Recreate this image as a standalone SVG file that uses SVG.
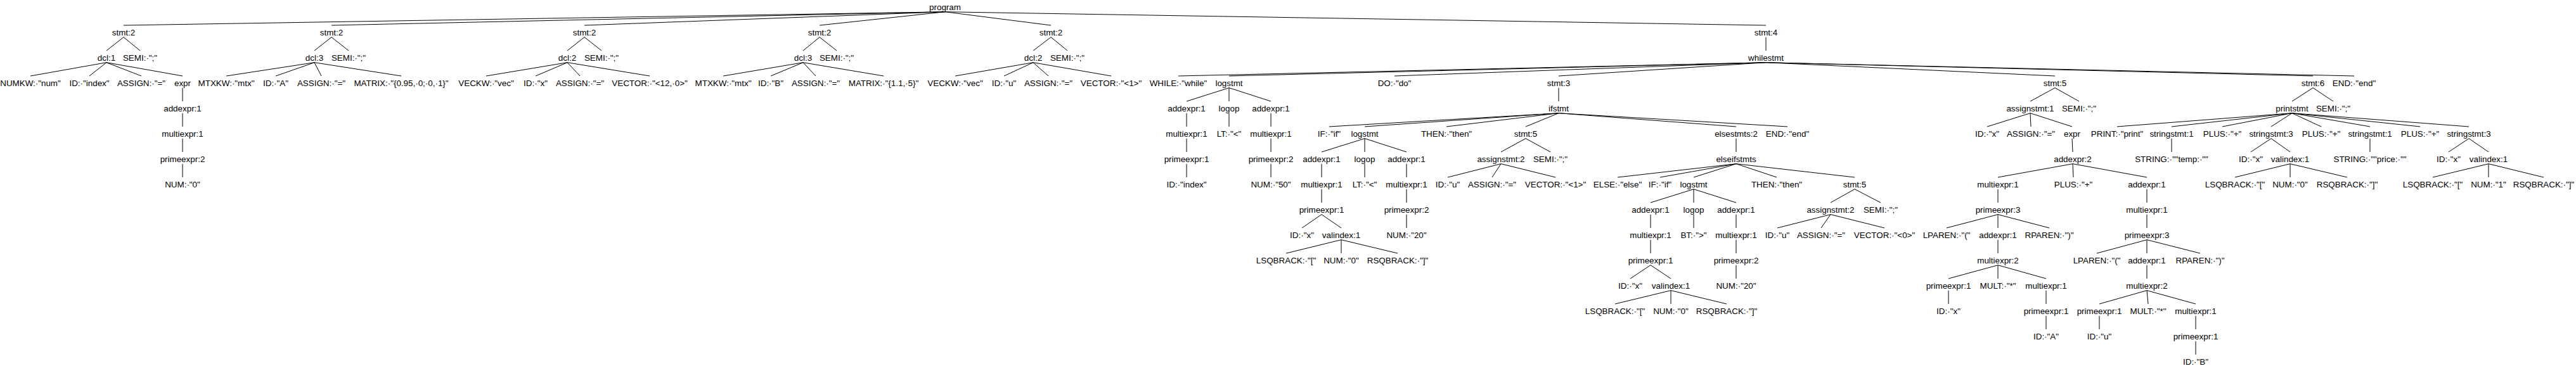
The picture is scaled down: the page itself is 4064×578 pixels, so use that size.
<svg xmlns="http://www.w3.org/2000/svg" width="4064" height="578" viewBox="0 0 4064 578">
<style>
text{font-family:"Liberation Sans",Arial,Helvetica,sans-serif;font-size:13.4px;text-anchor:middle;fill:#000}
#edges line{stroke:#000;stroke-width:1}
</style>
<rect width="4064" height="578" fill="#fff"/>
<g id="edges">
<line x1="1491" y1="18.7" x2="195" y2="40"/><line x1="1491" y1="18.7" x2="523" y2="40"/><line x1="1491" y1="18.7" x2="922" y2="40"/><line x1="1491" y1="18.7" x2="1293" y2="40"/><line x1="1491" y1="18.7" x2="1658" y2="40"/><line x1="1491" y1="18.7" x2="2786" y2="40"/>
<line x1="195" y1="58.7" x2="168" y2="80"/><line x1="195" y1="58.7" x2="221" y2="80"/>
<line x1="168" y1="98.7" x2="48" y2="120"/><line x1="168" y1="98.7" x2="141" y2="120"/><line x1="168" y1="98.7" x2="223" y2="120"/><line x1="168" y1="98.7" x2="288" y2="120"/>
<line x1="288" y1="138.7" x2="288" y2="160"/><line x1="288" y1="178.7" x2="288" y2="200"/><line x1="288" y1="218.7" x2="288" y2="240"/><line x1="288" y1="258.7" x2="288" y2="280"/>
<line x1="523" y1="58.7" x2="496" y2="80"/><line x1="523" y1="58.7" x2="550" y2="80"/>
<line x1="496" y1="98.7" x2="357" y2="120"/><line x1="496" y1="98.7" x2="435" y2="120"/><line x1="496" y1="98.7" x2="507" y2="120"/><line x1="496" y1="98.7" x2="633" y2="120"/>
<line x1="922" y1="58.7" x2="895" y2="80"/><line x1="922" y1="58.7" x2="949" y2="80"/>
<line x1="895" y1="98.7" x2="767" y2="120"/><line x1="895" y1="98.7" x2="845" y2="120"/><line x1="895" y1="98.7" x2="915" y2="120"/><line x1="895" y1="98.7" x2="1025" y2="120"/>
<line x1="1293" y1="58.7" x2="1267" y2="80"/><line x1="1293" y1="58.7" x2="1320" y2="80"/>
<line x1="1267" y1="98.7" x2="1141" y2="120"/><line x1="1267" y1="98.7" x2="1216" y2="120"/><line x1="1267" y1="98.7" x2="1287" y2="120"/><line x1="1267" y1="98.7" x2="1394" y2="120"/>
<line x1="1658" y1="58.7" x2="1630" y2="80"/><line x1="1658" y1="58.7" x2="1684" y2="80"/>
<line x1="1630" y1="98.7" x2="1507" y2="120"/><line x1="1630" y1="98.7" x2="1584" y2="120"/><line x1="1630" y1="98.7" x2="1654" y2="120"/><line x1="1630" y1="98.7" x2="1753" y2="120"/>
<line x1="2786" y1="58.7" x2="2786" y2="80"/>
<line x1="2786" y1="98.7" x2="1859" y2="120"/><line x1="2786" y1="98.7" x2="1939" y2="120"/><line x1="2786" y1="98.7" x2="2200" y2="120"/><line x1="2786" y1="98.7" x2="2459" y2="120"/><line x1="2786" y1="98.7" x2="3242" y2="120"/><line x1="2786" y1="98.7" x2="3649" y2="120"/><line x1="2786" y1="98.7" x2="3714" y2="120"/>
<line x1="1939" y1="138.7" x2="1872" y2="160"/><line x1="1939" y1="138.7" x2="1939" y2="160"/><line x1="1939" y1="138.7" x2="2005" y2="160"/>
<line x1="1872" y1="178.7" x2="1872" y2="200"/><line x1="1872" y1="218.7" x2="1872" y2="240"/><line x1="1872" y1="258.7" x2="1872" y2="280"/>
<line x1="1939" y1="178.7" x2="1939" y2="200"/>
<line x1="2005" y1="178.7" x2="2005" y2="200"/><line x1="2005" y1="218.7" x2="2005" y2="240"/><line x1="2005" y1="258.7" x2="2005" y2="280"/>
<line x1="2459" y1="138.7" x2="2459" y2="160"/>
<line x1="2459" y1="178.7" x2="2097" y2="200"/><line x1="2459" y1="178.7" x2="2153" y2="200"/><line x1="2459" y1="178.7" x2="2282" y2="200"/><line x1="2459" y1="178.7" x2="2407" y2="200"/><line x1="2459" y1="178.7" x2="2739" y2="200"/><line x1="2459" y1="178.7" x2="2820" y2="200"/>
<line x1="2153" y1="218.7" x2="2085" y2="240"/><line x1="2153" y1="218.7" x2="2153" y2="240"/><line x1="2153" y1="218.7" x2="2219" y2="240"/>
<line x1="2085" y1="258.7" x2="2085" y2="280"/><line x1="2085" y1="298.7" x2="2085" y2="320"/>
<line x1="2085" y1="338.7" x2="2054" y2="360"/><line x1="2085" y1="338.7" x2="2116" y2="360"/>
<line x1="2116" y1="378.7" x2="2029" y2="400"/><line x1="2116" y1="378.7" x2="2116" y2="400"/><line x1="2116" y1="378.7" x2="2205" y2="400"/>
<line x1="2153" y1="258.7" x2="2153" y2="280"/>
<line x1="2219" y1="258.7" x2="2219" y2="280"/><line x1="2219" y1="298.7" x2="2219" y2="320"/><line x1="2219" y1="338.7" x2="2219" y2="360"/>
<line x1="2407" y1="218.7" x2="2368" y2="240"/><line x1="2407" y1="218.7" x2="2446" y2="240"/>
<line x1="2368" y1="258.7" x2="2284" y2="280"/><line x1="2368" y1="258.7" x2="2354" y2="280"/><line x1="2368" y1="258.7" x2="2454" y2="280"/>
<line x1="2739" y1="218.7" x2="2739" y2="240"/>
<line x1="2739" y1="258.7" x2="2552" y2="280"/><line x1="2739" y1="258.7" x2="2619" y2="280"/><line x1="2739" y1="258.7" x2="2672" y2="280"/><line x1="2739" y1="258.7" x2="2803" y2="280"/><line x1="2739" y1="258.7" x2="2926" y2="280"/>
<line x1="2672" y1="298.7" x2="2604" y2="320"/><line x1="2672" y1="298.7" x2="2672" y2="320"/><line x1="2672" y1="298.7" x2="2739" y2="320"/>
<line x1="2604" y1="338.7" x2="2604" y2="360"/><line x1="2604" y1="378.7" x2="2604" y2="400"/>
<line x1="2604" y1="418.7" x2="2572" y2="440"/><line x1="2604" y1="418.7" x2="2636" y2="440"/>
<line x1="2636" y1="458.7" x2="2548" y2="480"/><line x1="2636" y1="458.7" x2="2636" y2="480"/><line x1="2636" y1="458.7" x2="2724" y2="480"/>
<line x1="2672" y1="338.7" x2="2672" y2="360"/>
<line x1="2739" y1="338.7" x2="2739" y2="360"/><line x1="2739" y1="378.7" x2="2739" y2="400"/><line x1="2739" y1="418.7" x2="2739" y2="440"/>
<line x1="2926" y1="298.7" x2="2888" y2="320"/><line x1="2926" y1="298.7" x2="2967" y2="320"/>
<line x1="2888" y1="338.7" x2="2804" y2="360"/><line x1="2888" y1="338.7" x2="2873" y2="360"/><line x1="2888" y1="338.7" x2="2973" y2="360"/>
<line x1="3242" y1="138.7" x2="3203" y2="160"/><line x1="3242" y1="138.7" x2="3280" y2="160"/>
<line x1="3203" y1="178.7" x2="3135" y2="200"/><line x1="3203" y1="178.7" x2="3204" y2="200"/><line x1="3203" y1="178.7" x2="3269" y2="200"/>
<line x1="3269" y1="218.7" x2="3270" y2="240"/>
<line x1="3270" y1="258.7" x2="3152" y2="280"/><line x1="3270" y1="258.7" x2="3271" y2="280"/><line x1="3270" y1="258.7" x2="3387" y2="280"/>
<line x1="3152" y1="298.7" x2="3152" y2="320"/>
<line x1="3152" y1="338.7" x2="3071" y2="360"/><line x1="3152" y1="338.7" x2="3152" y2="360"/><line x1="3152" y1="338.7" x2="3233" y2="360"/>
<line x1="3152" y1="378.7" x2="3152" y2="400"/>
<line x1="3152" y1="418.7" x2="3074" y2="440"/><line x1="3152" y1="418.7" x2="3152" y2="440"/><line x1="3152" y1="418.7" x2="3228" y2="440"/>
<line x1="3074" y1="458.7" x2="3074" y2="480"/>
<line x1="3228" y1="458.7" x2="3228" y2="480"/><line x1="3228" y1="498.7" x2="3228" y2="520"/>
<line x1="3387" y1="298.7" x2="3387" y2="320"/><line x1="3387" y1="338.7" x2="3387" y2="360"/>
<line x1="3387" y1="378.7" x2="3308" y2="400"/><line x1="3387" y1="378.7" x2="3387" y2="400"/><line x1="3387" y1="378.7" x2="3471" y2="400"/>
<line x1="3387" y1="418.7" x2="3387" y2="440"/>
<line x1="3387" y1="458.7" x2="3312" y2="480"/><line x1="3387" y1="458.7" x2="3389" y2="480"/><line x1="3387" y1="458.7" x2="3464" y2="480"/>
<line x1="3312" y1="498.7" x2="3312" y2="520"/>
<line x1="3464" y1="498.7" x2="3464" y2="520"/><line x1="3464" y1="538.7" x2="3464" y2="560"/>
<line x1="3649" y1="138.7" x2="3616" y2="160"/><line x1="3649" y1="138.7" x2="3681" y2="160"/>
<line x1="3616" y1="178.7" x2="3340" y2="200"/><line x1="3616" y1="178.7" x2="3426" y2="200"/><line x1="3616" y1="178.7" x2="3506" y2="200"/><line x1="3616" y1="178.7" x2="3583" y2="200"/><line x1="3616" y1="178.7" x2="3662" y2="200"/><line x1="3616" y1="178.7" x2="3739" y2="200"/><line x1="3616" y1="178.7" x2="3818" y2="200"/><line x1="3616" y1="178.7" x2="3895" y2="200"/>
<line x1="3426" y1="218.7" x2="3426" y2="240"/>
<line x1="3583" y1="218.7" x2="3551" y2="240"/><line x1="3583" y1="218.7" x2="3613" y2="240"/>
<line x1="3613" y1="258.7" x2="3526" y2="280"/><line x1="3613" y1="258.7" x2="3613" y2="280"/><line x1="3613" y1="258.7" x2="3703" y2="280"/>
<line x1="3739" y1="218.7" x2="3739" y2="240"/>
<line x1="3895" y1="218.7" x2="3863" y2="240"/><line x1="3895" y1="218.7" x2="3926" y2="240"/>
<line x1="3926" y1="258.7" x2="3838" y2="280"/><line x1="3926" y1="258.7" x2="3926" y2="280"/><line x1="3926" y1="258.7" x2="4013" y2="280"/>
</g>
<g id="n0"><text x="1491" y="15.7">program</text></g>
<g id="n1"><text x="195" y="55.7">stmt:2</text></g>
<g id="n2"><text x="168" y="95.7">dcl:1</text></g>
<g id="n3"><text x="221" y="95.7">SEMI:·";"</text></g>
<g id="n4"><text x="48" y="135.7">NUMKW:·"num"</text></g>
<g id="n5"><text x="141" y="135.7">ID:·"index"</text></g>
<g id="n6"><text x="223" y="135.7">ASSIGN:·"="</text></g>
<g id="n7"><text x="288" y="135.7">expr</text></g>
<g id="n8"><text x="288" y="175.7">addexpr:1</text></g>
<g id="n9"><text x="288" y="215.7">multiexpr:1</text></g>
<g id="n10"><text x="288" y="255.7">primeexpr:2</text></g>
<g id="n11"><text x="288" y="295.7">NUM:·"0"</text></g>
<g id="n12"><text x="523" y="55.7">stmt:2</text></g>
<g id="n13"><text x="496" y="95.7">dcl:3</text></g>
<g id="n14"><text x="550" y="95.7">SEMI:·";"</text></g>
<g id="n15"><text x="357" y="135.7">MTXKW:·"mtx"</text></g>
<g id="n16"><text x="435" y="135.7">ID:·"A"</text></g>
<g id="n17"><text x="507" y="135.7">ASSIGN:·"="</text></g>
<g id="n18"><text x="633" y="135.7">MATRIX:·"{0.95,·0;·0,·1}"</text></g>
<g id="n19"><text x="922" y="55.7">stmt:2</text></g>
<g id="n20"><text x="895" y="95.7">dcl:2</text></g>
<g id="n21"><text x="949" y="95.7">SEMI:·";"</text></g>
<g id="n22"><text x="767" y="135.7">VECKW:·"vec"</text></g>
<g id="n23"><text x="845" y="135.7">ID:·"x"</text></g>
<g id="n24"><text x="915" y="135.7">ASSIGN:·"="</text></g>
<g id="n25"><text x="1025" y="135.7">VECTOR:·"&lt;12,·0&gt;"</text></g>
<g id="n26"><text x="1293" y="55.7">stmt:2</text></g>
<g id="n27"><text x="1267" y="95.7">dcl:3</text></g>
<g id="n28"><text x="1320" y="95.7">SEMI:·";"</text></g>
<g id="n29"><text x="1141" y="135.7">MTXKW:·"mtx"</text></g>
<g id="n30"><text x="1216" y="135.7">ID:·"B"</text></g>
<g id="n31"><text x="1287" y="135.7">ASSIGN:·"="</text></g>
<g id="n32"><text x="1394" y="135.7">MATRIX:·"{1.1,·5}"</text></g>
<g id="n33"><text x="1658" y="55.7">stmt:2</text></g>
<g id="n34"><text x="1630" y="95.7">dcl:2</text></g>
<g id="n35"><text x="1684" y="95.7">SEMI:·";"</text></g>
<g id="n36"><text x="1507" y="135.7">VECKW:·"vec"</text></g>
<g id="n37"><text x="1584" y="135.7">ID:·"u"</text></g>
<g id="n38"><text x="1654" y="135.7">ASSIGN:·"="</text></g>
<g id="n39"><text x="1753" y="135.7">VECTOR:·"&lt;1&gt;"</text></g>
<g id="n40"><text x="2786" y="55.7">stmt:4</text></g>
<g id="n41"><text x="2786" y="95.7">whilestmt</text></g>
<g id="n42"><text x="1859" y="135.7">WHILE:·"while"</text></g>
<g id="n43"><text x="1939" y="135.7">logstmt</text></g>
<g id="n44"><text x="1872" y="175.7">addexpr:1</text></g>
<g id="n45"><text x="1872" y="215.7">multiexpr:1</text></g>
<g id="n46"><text x="1872" y="255.7">primeexpr:1</text></g>
<g id="n47"><text x="1872" y="295.7">ID:·"index"</text></g>
<g id="n48"><text x="1939" y="175.7">logop</text></g>
<g id="n49"><text x="1939" y="215.7">LT:·"&lt;"</text></g>
<g id="n50"><text x="2005" y="175.7">addexpr:1</text></g>
<g id="n51"><text x="2005" y="215.7">multiexpr:1</text></g>
<g id="n52"><text x="2005" y="255.7">primeexpr:2</text></g>
<g id="n53"><text x="2005" y="295.7">NUM:·"50"</text></g>
<g id="n54"><text x="2200" y="135.7">DO:·"do"</text></g>
<g id="n55"><text x="2459" y="135.7">stmt:3</text></g>
<g id="n56"><text x="2459" y="175.7">ifstmt</text></g>
<g id="n57"><text x="2097" y="215.7">IF:·"if"</text></g>
<g id="n58"><text x="2153" y="215.7">logstmt</text></g>
<g id="n59"><text x="2085" y="255.7">addexpr:1</text></g>
<g id="n60"><text x="2085" y="295.7">multiexpr:1</text></g>
<g id="n61"><text x="2085" y="335.7">primeexpr:1</text></g>
<g id="n62"><text x="2054" y="375.7">ID:·"x"</text></g>
<g id="n63"><text x="2116" y="375.7">valindex:1</text></g>
<g id="n64"><text x="2029" y="415.7">LSQBRACK:·"["</text></g>
<g id="n65"><text x="2116" y="415.7">NUM:·"0"</text></g>
<g id="n66"><text x="2205" y="415.7">RSQBRACK:·"]"</text></g>
<g id="n67"><text x="2153" y="255.7">logop</text></g>
<g id="n68"><text x="2153" y="295.7">LT:·"&lt;"</text></g>
<g id="n69"><text x="2219" y="255.7">addexpr:1</text></g>
<g id="n70"><text x="2219" y="295.7">multiexpr:1</text></g>
<g id="n71"><text x="2219" y="335.7">primeexpr:2</text></g>
<g id="n72"><text x="2219" y="375.7">NUM:·"20"</text></g>
<g id="n73"><text x="2282" y="215.7">THEN:·"then"</text></g>
<g id="n74"><text x="2407" y="215.7">stmt:5</text></g>
<g id="n75"><text x="2368" y="255.7">assignstmt:2</text></g>
<g id="n76"><text x="2446" y="255.7">SEMI:·";"</text></g>
<g id="n77"><text x="2284" y="295.7">ID:·"u"</text></g>
<g id="n78"><text x="2354" y="295.7">ASSIGN:·"="</text></g>
<g id="n79"><text x="2454" y="295.7">VECTOR:·"&lt;1&gt;"</text></g>
<g id="n80"><text x="2739" y="215.7">elsestmts:2</text></g>
<g id="n81"><text x="2739" y="255.7">elseifstmts</text></g>
<g id="n82"><text x="2552" y="295.7">ELSE:·"else"</text></g>
<g id="n83"><text x="2619" y="295.7">IF:·"if"</text></g>
<g id="n84"><text x="2672" y="295.7">logstmt</text></g>
<g id="n85"><text x="2604" y="335.7">addexpr:1</text></g>
<g id="n86"><text x="2604" y="375.7">multiexpr:1</text></g>
<g id="n87"><text x="2604" y="415.7">primeexpr:1</text></g>
<g id="n88"><text x="2572" y="455.7">ID:·"x"</text></g>
<g id="n89"><text x="2636" y="455.7">valindex:1</text></g>
<g id="n90"><text x="2548" y="495.7">LSQBRACK:·"["</text></g>
<g id="n91"><text x="2636" y="495.7">NUM:·"0"</text></g>
<g id="n92"><text x="2724" y="495.7">RSQBRACK:·"]"</text></g>
<g id="n93"><text x="2672" y="335.7">logop</text></g>
<g id="n94"><text x="2672" y="375.7">BT:·"&gt;"</text></g>
<g id="n95"><text x="2739" y="335.7">addexpr:1</text></g>
<g id="n96"><text x="2739" y="375.7">multiexpr:1</text></g>
<g id="n97"><text x="2739" y="415.7">primeexpr:2</text></g>
<g id="n98"><text x="2739" y="455.7">NUM:·"20"</text></g>
<g id="n99"><text x="2803" y="295.7">THEN:·"then"</text></g>
<g id="n100"><text x="2926" y="295.7">stmt:5</text></g>
<g id="n101"><text x="2888" y="335.7">assignstmt:2</text></g>
<g id="n102"><text x="2967" y="335.7">SEMI:·";"</text></g>
<g id="n103"><text x="2804" y="375.7">ID:·"u"</text></g>
<g id="n104"><text x="2873" y="375.7">ASSIGN:·"="</text></g>
<g id="n105"><text x="2973" y="375.7">VECTOR:·"&lt;0&gt;"</text></g>
<g id="n106"><text x="2820" y="215.7">END:·"end"</text></g>
<g id="n107"><text x="3242" y="135.7">stmt:5</text></g>
<g id="n108"><text x="3203" y="175.7">assignstmt:1</text></g>
<g id="n109"><text x="3280" y="175.7">SEMI:·";"</text></g>
<g id="n110"><text x="3135" y="215.7">ID:·"x"</text></g>
<g id="n111"><text x="3204" y="215.7">ASSIGN:·"="</text></g>
<g id="n112"><text x="3269" y="215.7">expr</text></g>
<g id="n113"><text x="3270" y="255.7">addexpr:2</text></g>
<g id="n114"><text x="3152" y="295.7">multiexpr:1</text></g>
<g id="n115"><text x="3152" y="335.7">primeexpr:3</text></g>
<g id="n116"><text x="3071" y="375.7">LPAREN:·"("</text></g>
<g id="n117"><text x="3152" y="375.7">addexpr:1</text></g>
<g id="n118"><text x="3233" y="375.7">RPAREN:·")"</text></g>
<g id="n119"><text x="3152" y="415.7">multiexpr:2</text></g>
<g id="n120"><text x="3074" y="455.7">primeexpr:1</text></g>
<g id="n121"><text x="3074" y="495.7">ID:·"x"</text></g>
<g id="n122"><text x="3152" y="455.7">MULT:·"*"</text></g>
<g id="n123"><text x="3228" y="455.7">multiexpr:1</text></g>
<g id="n124"><text x="3228" y="495.7">primeexpr:1</text></g>
<g id="n125"><text x="3228" y="535.7">ID:·"A"</text></g>
<g id="n126"><text x="3271" y="295.7">PLUS:·"+"</text></g>
<g id="n127"><text x="3387" y="295.7">addexpr:1</text></g>
<g id="n128"><text x="3387" y="335.7">multiexpr:1</text></g>
<g id="n129"><text x="3387" y="375.7">primeexpr:3</text></g>
<g id="n130"><text x="3308" y="415.7">LPAREN:·"("</text></g>
<g id="n131"><text x="3387" y="415.7">addexpr:1</text></g>
<g id="n132"><text x="3471" y="415.7">RPAREN:·")"</text></g>
<g id="n133"><text x="3387" y="455.7">multiexpr:2</text></g>
<g id="n134"><text x="3312" y="495.7">primeexpr:1</text></g>
<g id="n135"><text x="3312" y="535.7">ID:·"u"</text></g>
<g id="n136"><text x="3389" y="495.7">MULT:·"*"</text></g>
<g id="n137"><text x="3464" y="495.7">multiexpr:1</text></g>
<g id="n138"><text x="3464" y="535.7">primeexpr:1</text></g>
<g id="n139"><text x="3464" y="575.7">ID:·"B"</text></g>
<g id="n141"><text x="3649" y="135.7">stmt:6</text></g>
<g id="n142"><text x="3616" y="175.7">printstmt</text></g>
<g id="n143"><text x="3681" y="175.7">SEMI:·";"</text></g>
<g id="n144"><text x="3340" y="215.7">PRINT:·"print"</text></g>
<g id="n145"><text x="3426" y="215.7">stringstmt:1</text></g>
<g id="n146"><text x="3426" y="255.7">STRING:·""temp:·""</text></g>
<g id="n147"><text x="3506" y="215.7">PLUS:·"+"</text></g>
<g id="n148"><text x="3583" y="215.7">stringstmt:3</text></g>
<g id="n149"><text x="3551" y="255.7">ID:·"x"</text></g>
<g id="n150"><text x="3613" y="255.7">valindex:1</text></g>
<g id="n151"><text x="3526" y="295.7">LSQBRACK:·"["</text></g>
<g id="n152"><text x="3613" y="295.7">NUM:·"0"</text></g>
<g id="n153"><text x="3703" y="295.7">RSQBRACK:·"]"</text></g>
<g id="n154"><text x="3662" y="215.7">PLUS:·"+"</text></g>
<g id="n155"><text x="3739" y="215.7">stringstmt:1</text></g>
<g id="n156"><text x="3739" y="255.7">STRING:·""price:·""</text></g>
<g id="n157"><text x="3818" y="215.7">PLUS:·"+"</text></g>
<g id="n158"><text x="3895" y="215.7">stringstmt:3</text></g>
<g id="n159"><text x="3863" y="255.7">ID:·"x"</text></g>
<g id="n160"><text x="3926" y="255.7">valindex:1</text></g>
<g id="n161"><text x="3838" y="295.7">LSQBRACK:·"["</text></g>
<g id="n162"><text x="3926" y="295.7">NUM:·"1"</text></g>
<g id="n163"><text x="4013" y="295.7">RSQBRACK:·"]"</text></g>
<g id="n164"><text x="3714" y="135.7">END:·"end"</text></g>
</svg>
